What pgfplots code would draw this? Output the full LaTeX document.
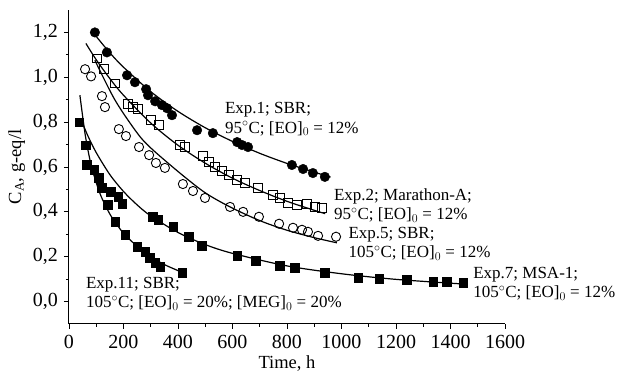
\documentclass[border=0pt]{standalone}
\usepackage{fontspec}
\setmainfont{Liberation Serif}
\usepackage{pgfplots}
\pgfplotsset{compat=1.18}
\tikzset{annot/.style={anchor=base west, inner sep=0pt, align=left, font=\fontsize{17}{19.5}\selectfont}}
\begin{document}
\begin{tikzpicture}
\fontsize{17.5}{20}\selectfont
\begin{axis}[
  scale only axis, width=436pt, height=314pt,
  xmin=0, xmax=1600, ymin=-0.1, ymax=1.3,
  axis x line=bottom, axis y line=left,
  axis line style={-, line width=1pt},
  xtick={0,200,...,1600}, minor x tick num=1,
  ytick={0,0.2,...,1.2}, minor y tick num=1,
  tick align=outside, tick style={black, line width=0.8pt},
  major tick length=5pt, minor tick length=3pt,
  xticklabel style={/pgf/number format/.cd, fixed, 1000 sep={}, assume math mode=true},
  yticklabel style={/pgf/number format/.cd, fixed, fixed zerofill, precision=1, use comma, assume math mode=true},
  ticklabel style={font=\fontsize{20}{22}\selectfont},
  xlabel={Time, h}, ylabel={C$_\mathrm{A}$, g-eq/l},
  label style={font=\fontsize{18.5}{20}\selectfont},
  xlabel style={yshift=5pt}, ylabel style={yshift=-4pt},
  clip=false,
]
% Exp.1 filled circles
\addplot[only marks, mark=*, mark size=4.8pt, black] coordinates {
(95,1.200)(139,1.111)(213,1.009)(242,0.978)(283,0.947)(290,0.920)(316,0.893)(341,0.876)(360,0.862)(378,0.831)
(470,0.764)(528,0.751)(617,0.711)(635,0.698)(657,0.689)(818,0.609)(859,0.591)(895,0.573)(939,0.556)};
\addplot[black, line width=1.2pt, smooth] coordinates {
(100,1.182)(150,1.109)(200,1.045)(300,0.936)(400,0.848)(500,0.775)(600,0.714)(700,0.661)(800,0.616)(900,0.577)(960,0.555)};
% Exp.2 open squares
\addplot[only marks, mark=square, mark size=4.3pt, black, line width=0.9pt] coordinates {
(103,1.084)(128,1.036)(169,0.973)(217,0.880)(235,0.867)(253,0.858)(301,0.809)(330,0.787)(407,0.698)(426,0.689)
(492,0.649)(514,0.622)(536,0.600)(561,0.582)(587,0.564)(617,0.542)(646,0.529)(694,0.507)(749,0.476)(774,0.462)
(804,0.440)(837,0.431)(873,0.436)(903,0.422)(928,0.418)};
\addplot[black, line width=1.2pt, smooth] coordinates {
(62,1.151)(100,1.078)(150,0.994)(200,0.920)(300,0.796)(400,0.697)(500,0.617)(600,0.550)(700,0.495)(800,0.447)(900,0.407)(940,0.392)};
% Exp.5 open circles
\addplot[only marks, mark=o, mark size=4.6pt, black, line width=0.9pt] coordinates {
(59,1.036)(81,1.004)(121,0.916)(132,0.867)(183,0.769)(209,0.738)(257,0.689)(294,0.653)(319,0.618)(352,0.596)
(418,0.524)(455,0.493)(499,0.462)(591,0.422)(639,0.400)(697,0.378)(771,0.347)(822,0.329)(855,0.320)(877,0.311)
(914,0.293)(980,0.289)};
\addplot[black, line width=1.2pt, smooth] coordinates {
(95,1.076)(169,0.898)(250,0.752)(300,0.685)(407,0.573)(500,0.485)(591,0.422)(700,0.361)(800,0.318)(900,0.285)(983,0.262)};
% Exp.7 filled squares
\addplot[only marks, mark=square*, mark size=4.3pt, black] coordinates {
(92,0.587)(110,0.551)(154,0.489)(180,0.467)(195,0.436)(308,0.378)(327,0.364)(382,0.333)(440,0.289)(488,0.249)
(617,0.204)(686,0.182)(774,0.160)(829,0.151)(939,0.129)(1061,0.107)(1138,0.102)(1240,0.098)(1336,0.089)(1387,0.089)(1446,0.084)};
\addplot[black, line width=1.2pt, smooth] coordinates {
(48,0.800)(70,0.737)(100,0.664)(150,0.566)(200,0.491)(250,0.431)(300,0.382)(400,0.308)(500,0.254)(600,0.215)(800,0.159)(1000,0.124)(1200,0.099)(1450,0.078)};
% Exp.11 filled squares
\addplot[only marks, mark=square*, mark size=4.3pt, black] coordinates {
(37,0.800)(62,0.698)(66,0.609)(121,0.507)(143,0.431)(169,0.356)(206,0.298)(250,0.244)(279,0.222)(297,0.196)
(316,0.173)(334,0.156)(415,0.129)};
\addplot[black, line width=1.2pt, smooth] coordinates {
(40,0.920)(60,0.740)(80,0.615)(100,0.530)(120,0.463)(150,0.390)(175,0.345)(200,0.305)(250,0.246)(300,0.200)(350,0.165)(400,0.138)(412,0.131)};
% annotations (anchored at the baseline of the second line)
\node[annot] at (axis cs:572,0.751) {Exp.1; SBR;\\95$^\circ$C; [EO]$_0$ = 12\%};
\node[annot] at (axis cs:972,0.364) {Exp.2; Marathon-A;\\95$^\circ$C; [EO]$_0$ = 12\%};
\node[annot] at (axis cs:1025,0.196) {Exp.5; SBR;\\105$^\circ$C; [EO]$_0$ = 12\%};
\node[annot] at (axis cs:1483,0.018) {Exp.7; MSA-1;\\105$^\circ$C; [EO]$_0$ = 12\%};
\node[annot] at (axis cs:62,-0.027) {Exp.11; SBR;\\105$^\circ$C; [EO]$_0$ = 20\%; [MEG]$_0$ = 20\%};
\end{axis}
\path (current axis.south west) ++(-69pt,-52pt) rectangle ++(619pt,376pt);
\end{tikzpicture}
\end{document}
